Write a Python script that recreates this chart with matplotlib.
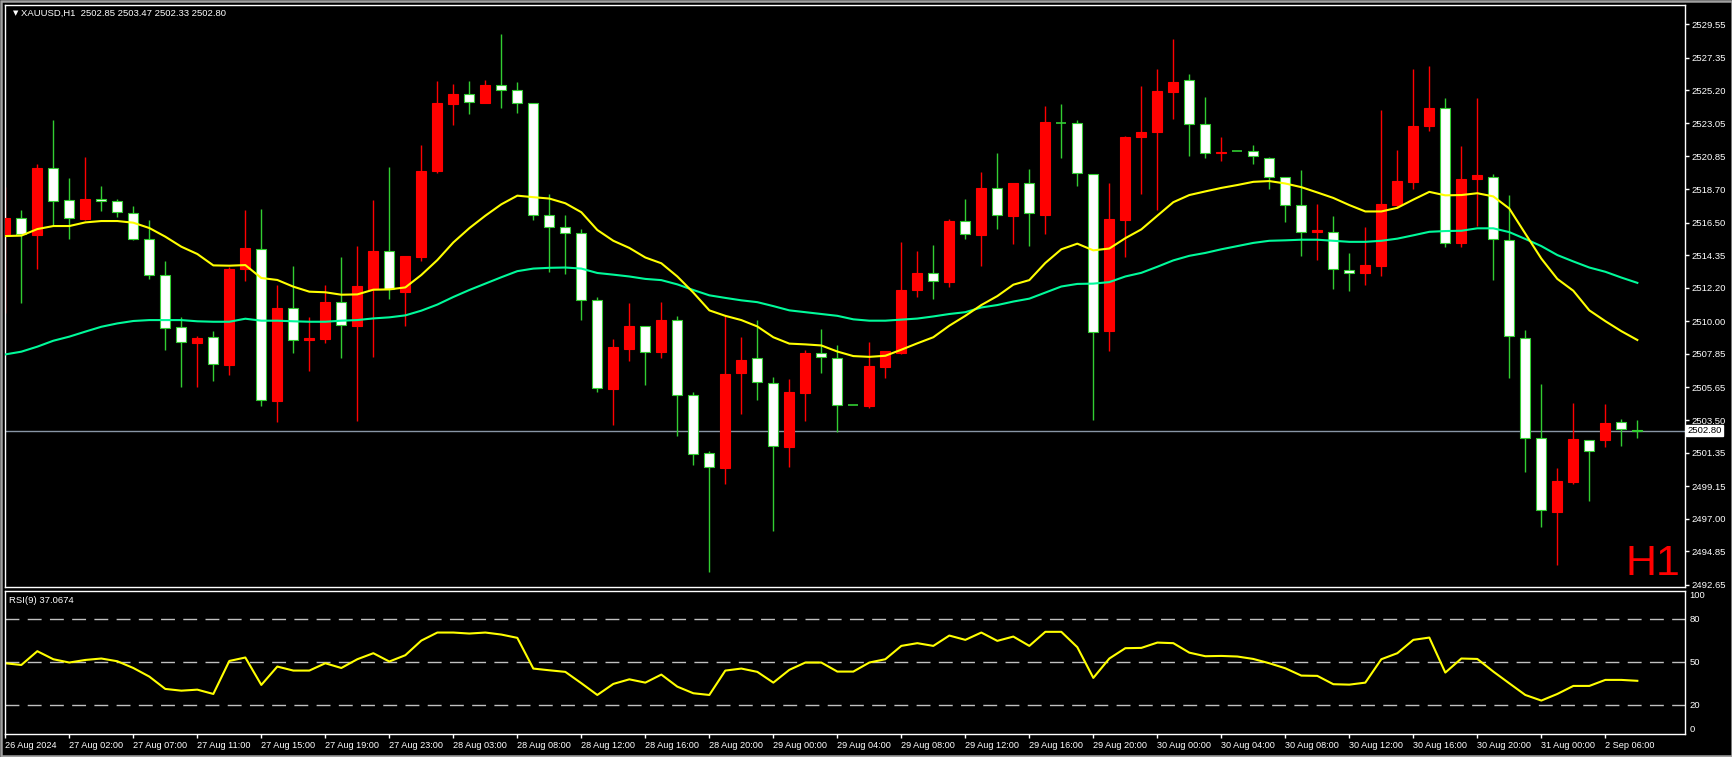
import numpy as np
import matplotlib
matplotlib.use('Agg')
import matplotlib.pyplot as plt
from matplotlib.patches import Rectangle
from matplotlib.transforms import blended_transform_factory

# XAUUSD H1, one entry per bar (left to right)
opens = [2515.76, 2516.78, 2515.70, 2520.07, 2517.96, 2516.75, 2518.03, 2517.90, 2517.10, 2515.40,
         2513.02, 2509.60, 2508.59, 2508.94, 2507.14, 2513.46, 2514.74, 2504.77, 2510.85, 2508.77,
         2508.83, 2511.25, 2509.71, 2512.12, 2514.60, 2511.95, 2514.25, 2519.90, 2524.33, 2524.94,
         2524.40, 2525.53, 2525.20, 2524.35, 2516.97, 2516.20, 2515.80, 2511.38, 2505.57, 2508.20,
         2509.66, 2507.96, 2510.06, 2505.12, 2501.31, 2500.37, 2506.60, 2507.61, 2505.97, 2501.73,
         2505.31, 2507.90, 2507.61, 2504.46, 2504.41, 2507.00, 2507.94, 2512.08, 2513.21, 2512.60,
         2516.57, 2515.70, 2518.76, 2516.95, 2519.09, 2517.02, 2523.06, 2523.04, 2519.68, 2509.38,
         2516.69, 2522.10, 2522.47, 2525.11, 2525.86, 2522.97, 2521.10, 2521.18, 2521.18, 2520.78,
         2519.49, 2517.63, 2515.89, 2515.91, 2513.35, 2513.21, 2513.66, 2517.67, 2519.18, 2522.83,
         2524.07, 2515.18, 2519.35, 2519.51, 2515.37, 2508.93, 2502.35, 2497.46, 2499.43, 2502.16,
         2502.20, 2503.36, 2502.85]
highs = [2518.86, 2517.33, 2520.35, 2523.25, 2519.43, 2520.81, 2518.90, 2518.05, 2517.59, 2516.67,
         2513.97, 2510.30, 2509.03, 2509.36, 2513.59, 2517.33, 2517.39, 2512.39, 2513.64, 2510.30,
         2512.39, 2514.23, 2514.96, 2517.98, 2520.18, 2514.30, 2521.60, 2525.82, 2525.63, 2525.81,
         2525.88, 2528.94, 2525.74, 2524.40, 2518.36, 2517.00, 2516.08, 2511.59, 2508.84, 2511.21,
         2509.70, 2511.26, 2510.37, 2505.36, 2501.48, 2510.37, 2508.95, 2510.08, 2506.32, 2506.20,
         2508.11, 2509.50, 2508.44, 2504.46, 2508.65, 2508.04, 2515.21, 2514.62, 2515.02, 2516.76,
         2518.05, 2519.82, 2521.06, 2519.11, 2520.03, 2524.17, 2524.31, 2523.25, 2519.70, 2519.11,
         2522.19, 2525.48, 2526.61, 2528.59, 2526.28, 2524.75, 2522.12, 2521.18, 2521.60, 2520.80,
         2519.53, 2519.96, 2517.72, 2516.93, 2514.50, 2516.22, 2523.91, 2521.28, 2526.61, 2526.80,
         2524.71, 2521.53, 2524.71, 2519.68, 2518.31, 2509.42, 2505.87, 2500.35, 2504.63, 2502.20,
         2504.56, 2503.59, 2503.47]
lows = [2510.52, 2511.22, 2513.46, 2516.34, 2515.44, 2516.66, 2517.28, 2516.89, 2515.38, 2512.80,
        2508.10, 2505.69, 2505.69, 2506.09, 2506.46, 2512.67, 2504.44, 2503.39, 2507.93, 2506.75,
        2508.55, 2507.60, 2503.46, 2507.67, 2511.44, 2509.71, 2514.00, 2519.78, 2522.94, 2523.67,
        2524.38, 2524.07, 2523.72, 2516.66, 2513.26, 2513.12, 2510.11, 2505.36, 2503.19, 2507.38,
        2505.83, 2507.61, 2502.47, 2500.56, 2493.48, 2499.31, 2503.90, 2504.84, 2496.21, 2500.42,
        2503.43, 2506.60, 2502.68, 2504.46, 2504.32, 2506.30, 2507.83, 2511.61, 2511.49, 2512.29,
        2515.44, 2513.66, 2516.10, 2515.11, 2514.97, 2515.77, 2520.78, 2518.92, 2503.47, 2508.06,
        2514.24, 2518.41, 2517.35, 2523.34, 2520.90, 2520.78, 2520.55, 2521.18, 2520.38, 2518.74,
        2516.55, 2514.31, 2514.06, 2512.15, 2512.01, 2512.41, 2513.00, 2517.49, 2518.74, 2522.54,
        2514.90, 2514.86, 2516.24, 2512.74, 2506.30, 2500.09, 2496.49, 2493.98, 2499.27, 2498.14,
        2501.71, 2501.81, 2502.33]
closes = [2516.82, 2515.75, 2520.09, 2517.90, 2516.78, 2518.05, 2517.90, 2517.17, 2515.40, 2513.02,
          2509.54, 2508.61, 2508.88, 2507.17, 2513.44, 2514.82, 2504.82, 2510.87, 2508.75, 2508.88,
          2511.27, 2509.75, 2512.32, 2514.63, 2512.10, 2514.28, 2519.89, 2524.37, 2524.94, 2524.43,
          2525.55, 2525.20, 2524.35, 2517.02, 2516.20, 2515.80, 2511.38, 2505.59, 2508.30, 2509.68,
          2508.01, 2510.08, 2505.12, 2501.24, 2500.40, 2506.53, 2507.45, 2506.02, 2501.76, 2505.33,
          2507.92, 2507.64, 2504.46, 2504.46, 2507.05, 2508.04, 2512.06, 2513.19, 2512.62, 2516.60,
          2515.73, 2518.78, 2516.97, 2519.11, 2517.11, 2523.11, 2523.06, 2519.75, 2509.28, 2516.71,
          2522.12, 2522.45, 2525.15, 2525.74, 2522.97, 2521.06, 2521.15, 2521.18, 2520.85, 2519.49,
          2517.63, 2515.91, 2516.00, 2513.42, 2513.21, 2513.70, 2517.72, 2519.23, 2522.85, 2524.05,
          2515.14, 2519.35, 2519.63, 2515.40, 2509.00, 2502.30, 2497.55, 2499.46, 2502.25, 2501.43,
          2503.31, 2502.89, 2502.80]

# moving averages as drawn on the chart (yellow fast, green slow)
ma_fast = [2515.61, 2515.64, 2516.07, 2516.27, 2516.27, 2516.51, 2516.60, 2516.60, 2516.49, 2516.14,
           2515.57, 2514.91, 2514.43, 2513.68, 2513.66, 2513.70, 2512.85, 2512.72, 2512.28, 2511.95,
           2511.91, 2511.75, 2511.77, 2512.08, 2512.10, 2512.23, 2513.05, 2514.03, 2515.19, 2516.13,
           2516.95, 2517.70, 2518.27, 2518.17, 2518.08, 2517.77, 2517.18, 2516.01, 2515.30, 2514.83,
           2514.20, 2513.82, 2512.95, 2511.89, 2510.72, 2510.36, 2510.08, 2509.66, 2508.95, 2508.53,
           2508.48, 2508.41, 2508.01, 2507.71, 2507.66, 2507.73, 2508.13, 2508.55, 2508.95, 2509.71,
           2510.36, 2511.07, 2511.66, 2512.41, 2512.71, 2513.84, 2514.74, 2515.11, 2514.67, 2514.79,
           2515.47, 2516.05, 2516.95, 2517.84, 2518.31, 2518.55, 2518.78, 2518.97, 2519.18, 2519.23,
           2519.07, 2518.83, 2518.48, 2518.12, 2517.65, 2517.23, 2517.23, 2517.47, 2518.01, 2518.52,
           2518.29, 2518.31, 2518.43, 2518.22, 2517.42, 2515.77, 2514.13, 2512.79, 2512.01, 2510.72,
           2510.01, 2509.35, 2508.77]
ma_slow = [2507.82, 2508.00, 2508.33, 2508.72, 2508.99, 2509.32, 2509.64, 2509.86, 2510.02, 2510.08,
           2510.08, 2510.08, 2510.00, 2509.97, 2509.97, 2510.17, 2510.04, 2510.04, 2510.00, 2509.97,
           2509.97, 2510.04, 2510.08, 2510.19, 2510.26, 2510.39, 2510.70, 2511.10, 2511.60, 2512.06,
           2512.48, 2512.90, 2513.30, 2513.47, 2513.52, 2513.54, 2513.47, 2513.18, 2513.07, 2512.95,
           2512.79, 2512.71, 2512.43, 2512.06, 2511.71, 2511.54, 2511.38, 2511.26, 2511.00, 2510.72,
           2510.60, 2510.48, 2510.36, 2510.13, 2510.04, 2510.04, 2510.11, 2510.18, 2510.32, 2510.48,
           2510.60, 2510.91, 2511.07, 2511.30, 2511.49, 2511.89, 2512.29, 2512.46, 2512.48, 2512.58,
           2512.95, 2513.19, 2513.59, 2514.01, 2514.31, 2514.50, 2514.74, 2514.95, 2515.16, 2515.30,
           2515.33, 2515.37, 2515.37, 2515.30, 2515.23, 2515.23, 2515.30, 2515.44, 2515.66, 2515.89,
           2515.94, 2515.96, 2516.12, 2516.12, 2515.87, 2515.42, 2514.95, 2514.36, 2513.94, 2513.54,
           2513.26, 2512.88, 2512.53]

rsi = [49.3, 48.1, 57.7, 52.1, 49.8, 51.6, 52.6, 50.7, 46.0, 40.0,
       31.4, 30.2, 30.9, 27.9, 50.9, 53.3, 34.2, 47.0, 44.2, 44.2,
       49.3, 46.0, 52.1, 56.3, 50.5, 54.9, 65.1, 70.7, 70.7, 70.0,
       70.7, 69.3, 67.0, 45.6, 44.4, 43.3, 35.4, 27.2, 34.9, 38.1,
       35.8, 41.4, 33.0, 28.4, 27.2, 44.2, 45.6, 43.3, 35.8, 44.7,
       49.8, 49.8, 43.5, 43.5, 49.8, 52.1, 61.4, 63.3, 61.4, 68.6,
       65.6, 70.7, 64.9, 67.9, 61.4, 71.2, 71.2, 60.5, 39.1, 52.6,
       59.8, 60.0, 63.7, 63.3, 56.7, 54.2, 54.4, 54.0, 52.3, 49.3,
       45.8, 40.7, 40.5, 34.7, 34.4, 35.8, 52.1, 56.3, 65.6, 67.2,
       42.8, 52.6, 52.3, 43.5, 35.3, 27.2, 23.3, 27.9, 33.5, 33.5,
       37.7, 37.7, 37.07]

time_labels = ["26 Aug 2024", "27 Aug 02:00", "27 Aug 07:00", "27 Aug 11:00", "27 Aug 15:00",
               "27 Aug 19:00", "27 Aug 23:00", "28 Aug 03:00", "28 Aug 08:00", "28 Aug 12:00",
               "28 Aug 16:00", "28 Aug 20:00", "29 Aug 00:00", "29 Aug 04:00", "29 Aug 08:00",
               "29 Aug 12:00", "29 Aug 16:00", "29 Aug 20:00", "30 Aug 00:00", "30 Aug 04:00",
               "30 Aug 08:00", "30 Aug 12:00", "30 Aug 16:00", "30 Aug 20:00", "31 Aug 00:00",
               "2 Sep 06:00"]
price_ticks = [2529.55, 2527.35, 2525.20, 2523.05, 2520.85, 2518.70, 2516.50, 2514.35, 2512.20,
               2510.00, 2507.85, 2505.65, 2503.50, 2501.35, 2499.15, 2497.00, 2494.85, 2492.65]
rsi_levels = [20, 50, 80]
last_price = 2502.80

BULL = '#FF0000'
BEAR_EDGE = '#32CD32'
FONT = 'Liberation Sans'

W, H = 1733, 757


def box(x0, y0, x1, y1):
    # pixel box (top-left origin) -> figure fraction rect
    return [x0 / W, 1 - y1 / H, (x1 - x0) / W, (y1 - y0) / H]


fig = plt.figure(figsize=(W / 100, H / 100), dpi=100, facecolor='black')
fig.patches.append(Rectangle((0.6 / W, 0.6 / H), 1 - 1.2 / W, 1 - 1.2 / H, transform=fig.transFigure,
                             fill=False, edgecolor='#A0A0A0', lw=1.8))

ax = fig.add_axes(box(5, 5, 1685, 587))
ax2 = fig.add_axes(box(5, 590.5, 1685, 734))

x = np.arange(len(opens))
o = np.array(opens)
c = np.array(closes)
hi = np.array(highs)
lo = np.array(lows)
up = c > o

for a in (ax, ax2):
    a.set_facecolor('black')
    for s in a.spines.values():
        s.set_color('white')
        s.set_linewidth(1)
    a.set_xlim(-0.02, 104.98)

# current price line
ax.axhline(last_price, color='#8895A5', lw=1, zorder=1)

# wicks
ax.vlines(x[up], lo[up], hi[up], color=BULL, lw=1, zorder=2)
ax.vlines(x[~up], lo[~up], hi[~up], color=BEAR_EDGE, lw=1, zorder=2)

# bodies
bw = 0.64
ax.bar(x[up], c[up] - o[up], bottom=o[up], width=bw, color=BULL, edgecolor=BULL, lw=0.8, zorder=3)
dn = (~up) & (o != c)
ax.bar(x[dn], o[dn] - c[dn], bottom=c[dn], width=bw, color='white', edgecolor=BEAR_EDGE, lw=0.8, zorder=3)
flat = o == c
ax.hlines(o[flat], x[flat] - bw / 2, x[flat] + bw / 2, color=BEAR_EDGE, lw=1.2, zorder=3)

# moving averages
ax.plot(x, ma_slow, color='#00FA9A', lw=1.5, zorder=4)
ax.plot(x, ma_fast, color='#FFFF00', lw=1.5, zorder=4)

ax.set_ylim(2492.51, 2530.82)
ax.set_xticks([])
ax.yaxis.tick_right()
ax.set_yticks(price_ticks)
ax.set_yticklabels(['%.2f' % v for v in price_ticks])
ax.tick_params(axis='y', colors='white', length=3, width=1, pad=2, labelsize=6.8,
               labelfontfamily=FONT)

ax.text(1.0015, last_price, '%.2f' % last_price, transform=blended_transform_factory(ax.transAxes, ax.transData),
        color='black', fontsize=6.8, family=FONT, va='center', ha='left',
        bbox=dict(boxstyle='square,pad=0.12', facecolor='white', edgecolor='white'), zorder=10)

ax.text(0.0045, 0.9855, '\u25bc', transform=ax.transAxes, color='white', fontsize=5,
        family='DejaVu Sans', va='center', ha='left')
ax.text(0.0095, 0.986, 'XAUUSD,H1  2502.85 2503.47 2502.33 2502.80', transform=ax.transAxes,
        color='white', fontsize=6.8, family=FONT, va='center', ha='left')
ax.text(0.997, 0.021, 'H1', transform=ax.transAxes, color='#FF0000', fontsize=31, family=FONT,
        va='baseline', ha='right')

# RSI panel
for lvl in rsi_levels:
    ax2.axhline(lvl, color='#C0C0C0', lw=1, dashes=(10, 6))
ax2.plot(x, rsi, color='#FFFF00', lw=1.5)
ax2.set_ylim(0, 100)
ax2.set_yticks([])
ax2.text(0.0025, 0.93, 'RSI(9) 37.0674', transform=ax2.transAxes, color='white', fontsize=6.8,
         family=FONT, va='center', ha='left')
tr = blended_transform_factory(ax2.transAxes, ax2.transData)
for lvl, va in [(100, 'top'), (80, 'center'), (50, 'center'), (20, 'center'), (0, 'bottom')]:
    ax2.text(1.0025, lvl, str(lvl), transform=tr, color='white', fontsize=6.8, family=FONT,
             va=va, ha='left')

ax2.set_xticks(np.arange(0, 4 * len(time_labels), 4))
ax2.set_xticklabels(time_labels)
ax2.tick_params(axis='x', colors='white', length=3, width=1, pad=2, labelsize=6.6,
                labelfontfamily=FONT)
for lab in ax2.get_xticklabels():
    lab.set_horizontalalignment('left')

fig.savefig('out.png', dpi=100, facecolor='black')
